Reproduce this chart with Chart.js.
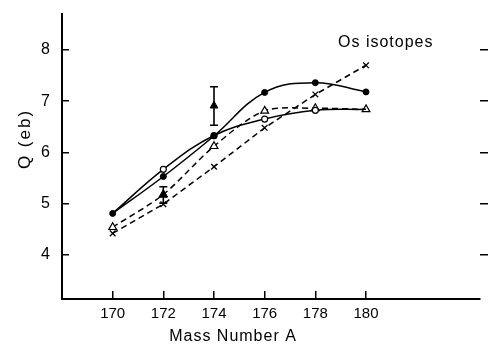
<!DOCTYPE html>
<html>
<head>
<meta charset="utf-8">
<script src="https://cdn.jsdelivr.net/npm/chart.js@4.4.0/dist/chart.umd.min.js"></script>
<style>
html,body{margin:0;padding:0;background:#fff;}
#wrap{width:488px;height:352px;position:relative;}
</style>
</head>
<body>
<div id="wrap"><canvas id="c"></canvas></div>
<script>
const massNumbers = [170, 172, 174, 176, 178, 180];
const xTickValues = [170, 172, 174, 176, 178, 180];
const yTickValues = [4, 5, 6, 7, 8];
const filledCircles = [4.81, 5.53, 6.32, 7.17, 7.36, 7.18];
const openCircles = [4.81, 5.67, 6.33, 6.65, 6.82, 6.84];
const openTriangles = [4.54, 5.18, 6.12, 6.81, 6.86, 6.84];
const crosses = [4.42, 4.99, 5.72, 6.48, 7.13, 7.70];
const expMass = [172, 174];
const expQ = [5.17, 6.91];
const expLow = [5.01, 6.53];
const expHigh = [5.33, 7.28];
const titleText = "Os isotopes";
const xTitle = "Mass Number A";
const yTitle = "Q (eb)";

const toXY = (xs, ys) => xs.map((x, i) => ({x, y: ys[i]}));
const FONT = "'Liberation Sans', 'DejaVu Sans', sans-serif";

const errPlugin = {
  id: 'errbars',
  afterDatasetsDraw(chart) {
    const ctx = chart.ctx, xs = chart.scales.x, ys = chart.scales.y;
    ctx.save();
    ctx.strokeStyle = '#000';
    ctx.lineWidth = 1.6;
    expMass.forEach((m, i) => {
      const px = xs.getPixelForValue(m);
      const lo = ys.getPixelForValue(expLow[i]);
      const hi = ys.getPixelForValue(expHigh[i]);
      ctx.beginPath();
      ctx.moveTo(px, lo); ctx.lineTo(px, hi);
      ctx.moveTo(px - 4, lo); ctx.lineTo(px + 4, lo);
      ctx.moveTo(px - 4, hi); ctx.lineTo(px + 4, hi);
      ctx.stroke();
    });
    ctx.restore();
  }
};

const textPlugin = {
  id: 'texts',
  afterDraw(chart) {
    const ctx = chart.ctx;
    ctx.save();
    ctx.fillStyle = '#000';
    ctx.textBaseline = 'middle';
    ctx.textAlign = 'left';
    ctx.letterSpacing = '1px';
    ctx.font = "16px " + FONT;
    ctx.fillText(titleText, 338, 43);
    ctx.textAlign = 'center';
    ctx.font = "16px " + FONT;
    ctx.fillText(xTitle, 233, 337);
    ctx.font = "17px " + FONT;
    ctx.letterSpacing = '2px';
    ctx.translate(25, 139);
    ctx.rotate(-Math.PI / 2);
    ctx.fillText(yTitle, 0, 0);
    ctx.restore();
  }
};

new Chart(document.getElementById('c'), {
  type: 'line',
  data: {
    datasets: [
      {
        data: toXY(expMass, expQ),
        showLine: false,
        pointStyle: 'triangle',
        pointRadius: 4.5,
        backgroundColor: '#000',
        borderColor: '#000',
        borderWidth: 1
      },
      {
        data: toXY(massNumbers, filledCircles),
        borderColor: '#000',
        backgroundColor: '#000',
        borderWidth: 1.5,
        tension: 0.4,
        pointStyle: 'circle',
        pointRadius: 3,
        pointBorderWidth: 1
      },
      {
        data: toXY(massNumbers, openCircles),
        borderColor: '#000',
        backgroundColor: '#fff',
        borderWidth: 1.5,
        tension: 0.4,
        pointStyle: 'circle',
        pointRadius: [0, 3, 3, 3, 3, 0],
        pointBorderWidth: 1.2
      },
      {
        data: toXY(massNumbers, openTriangles),
        borderColor: '#000',
        backgroundColor: '#fff',
        borderWidth: 1.5,
        borderDash: [6, 4],
        tension: 0.3,
        pointStyle: 'triangle',
        pointRadius: 4.5,
        pointBorderWidth: 1.2
      },
      {
        data: toXY(massNumbers, crosses),
        borderColor: '#000',
        backgroundColor: '#000',
        borderWidth: 1.5,
        borderDash: [6, 4],
        tension: 0,
        pointStyle: 'crossRot',
        pointRadius: 4,
        pointBorderWidth: 1.3
      }
    ]
  },
  options: {
    responsive: true,
    maintainAspectRatio: false,
    animation: false,
    layout: { padding: { top: 14, right: 0, left: 0, bottom: 0 } },
    plugins: { legend: { display: false }, tooltip: { enabled: false }, title: { display: false } },
    scales: {
      x: {
        type: 'linear',
        min: 168,
        max: 184.5,
        afterBuildTicks: s => { s.ticks = xTickValues.map(v => ({ value: v })); },
        afterFit: s => { s.height = 53; s.paddingLeft = 0; s.paddingRight = 0; },
        grid: { drawOnChartArea: false, drawTicks: true, tickLength: -8, color: '#000', lineWidth: 1.5 },
        border: { display: true, color: '#000', width: 2 },
        ticks: { color: '#000', padding: 14, font: { family: FONT, size: 15 }, maxRotation: 0, autoSkip: false, callback: v => String(v) }
      },
      y: {
        type: 'linear',
        min: 3.14,
        max: 8.7,
        afterBuildTicks: s => { s.ticks = yTickValues.map(v => ({ value: v })); },
        afterFit: s => { s.width = 62; s.paddingTop = 0; s.paddingBottom = 0; },
        grid: { drawOnChartArea: false, drawTicks: true, tickLength: -7, color: '#000', lineWidth: 1.5 },
        border: { display: true, color: '#000', width: 2 },
        ticks: { color: '#000', padding: 19, font: { family: FONT, size: 16 }, callback: v => String(v) }
      },
      y2: {
        type: 'linear',
        position: 'right',
        min: 3.14,
        max: 8.7,
        afterBuildTicks: s => { s.ticks = yTickValues.map(v => ({ value: v })); },
        afterFit: s => { s.width = 8; s.paddingTop = 0; s.paddingBottom = 0; },
        grid: { drawOnChartArea: false, drawTicks: true, tickLength: 8, color: '#000', lineWidth: 1.5 },
        border: { display: false },
        ticks: { display: false }
      }
    }
  },
  plugins: [errPlugin, textPlugin]
});
</script>
</body>
</html>
